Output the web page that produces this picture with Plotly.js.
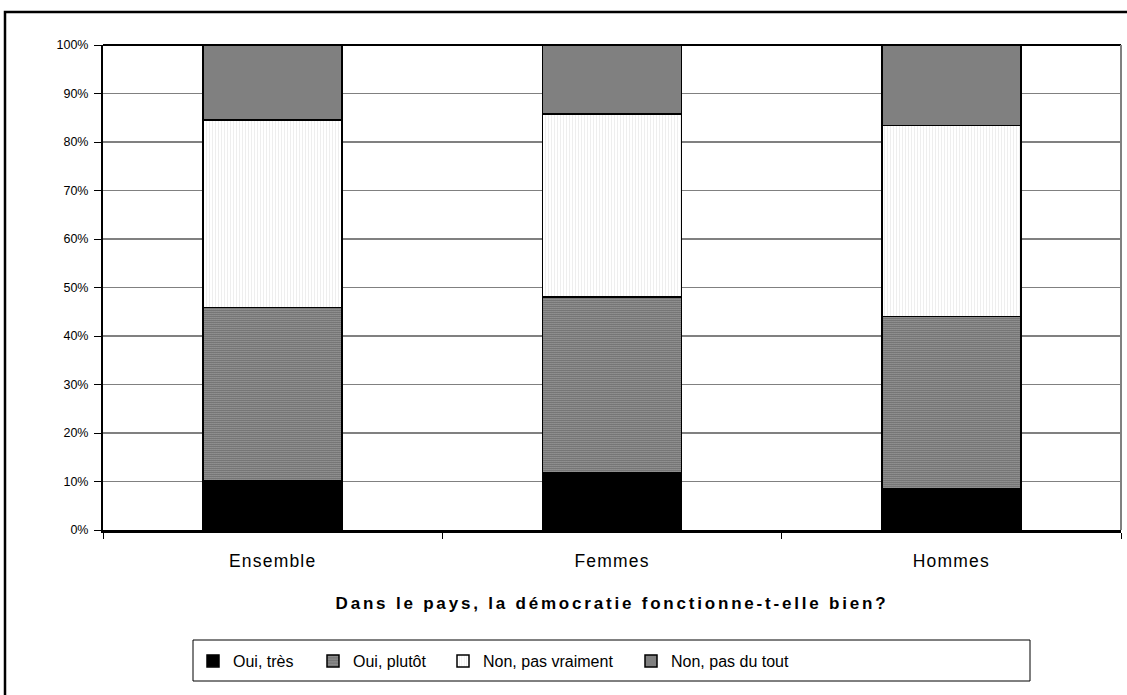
<!DOCTYPE html>
<html>
<head>
<meta charset="utf-8">
<script src="https://cdn.plot.ly/plotly-3.0.1.min.js"></script>
<style>
html,body{margin:0;padding:0;background:#fff;}
#chart{width:1127px;height:695px;}
#chart .xtick text{letter-spacing:1.2px;}
#chart .g-xtitle text{letter-spacing:2.8px;}
</style>
</head>
<body>
<div id="chart"></div>
<script>
const categories = ["Ensemble", "Femmes", "Hommes"];
const seriesNames = ["Oui, très", "Oui, plutôt", "Non, pas vraiment", "Non, pas du tout"];
const ouiTres = [10.2, 11.9, 8.5];
const ouiPlutot = [35.7, 36.1, 35.5];
const nonPasVraiment = [38.6, 37.8, 39.4];
const nonPasDuTout = [15.5, 14.2, 16.6];
const yTickVals = [0, 10, 20, 30, 40, 50, 60, 70, 80, 90, 100];
const yTickText = ["0%", "10%", "20%", "30%", "40%", "50%", "60%", "70%", "80%", "90%", "100%"];
const xTitle = "Dans le pays, la démocratie fonctionne-t-elle bien?";

const W = 1127, H = 695;
const mL = 103, mR = 6, mT = 45, mB = 165;
const pw = W - mL - mR, ph = H - mT - mB;
const px = x => (x - mL) / pw;
const py = y => (H - mB - y) / ph;

const lineStyle = {color: "#000", width: 1.5};
const legendIds = ["legend", "legend2", "legend3", "legend4"];
const traces = [
  {name: seriesNames[0], y: ouiTres, marker: {color: "#000", line: lineStyle}},
  {name: seriesNames[1], y: ouiPlutot, marker: {color: "#fff", line: lineStyle,
     pattern: {shape: ".", fgcolor: "#000", bgcolor: "#fff", size: 2, solidity: 0.55}}},
  {name: seriesNames[2], y: nonPasVraiment, marker: {color: "#fff", line: lineStyle,
     pattern: {shape: "|", fgcolor: "#ececec", bgcolor: "#fff", size: 3, solidity: 0.3}}},
  {name: seriesNames[3], y: nonPasDuTout, marker: {color: "#808080", line: lineStyle}}
].map((t, i) => Object.assign({type: "bar", x: categories, width: 0.41, hoverinfo: "none", legend: legendIds[i]}, t));

// legend text start positions (pixels)
const legendTextX = [233, 353, 483, 671];
const legendBase = {
  orientation: "h", xanchor: "left", yanchor: "middle", y: py(661),
  bgcolor: "rgba(0,0,0,0)", borderwidth: 0,
  font: {size: 16, family: "Liberation Sans, Arial, sans-serif", color: "#000"},
  itemwidth: 30
};

const layout = {
  width: W, height: H,
  margin: {l: mL, r: mR, t: mT, b: mB, pad: 0},
  paper_bgcolor: "#fff", plot_bgcolor: "#fff",
  barmode: "stack",
  font: {family: "Liberation Sans, Arial, sans-serif", color: "#000", size: 13},
  showlegend: true,
  xaxis: {
    type: "category",
    range: [-0.5, 2.5],
    showline: true, linecolor: "#000", linewidth: 2.5,
    ticks: "outside", tickson: "boundaries", ticklen: 6, tickcolor: "#000", tickwidth: 1,
    ticklabelstandoff: 13,
    tickfont: {size: 17.5},
    showgrid: false, zeroline: false,
    title: {text: "<b>" + xTitle + "</b>", font: {size: 17}, standoff: 28}
  },
  yaxis: {
    range: [0, 100],
    tickvals: yTickVals, ticktext: yTickText,
    showline: true, linecolor: "#000", linewidth: 2,
    ticks: "outside", ticklen: 7, tickcolor: "#000", tickwidth: 1,
    ticklabelstandoff: 3,
    tickfont: {size: 12.5},
    showgrid: true, gridcolor: "#808080", gridwidth: 1.2,
    zeroline: false
  },
  shapes: [
    {type: "line", xref: "paper", yref: "paper", x0: 0, x1: 1, y0: 1, y1: 1, line: {color: "#000", width: 2}},
    {type: "line", xref: "paper", yref: "paper", x0: 1, x1: 1, y0: 0, y1: 1, line: {color: "#808080", width: 2}},
    {type: "rect", xref: "paper", yref: "paper", x0: px(193), x1: px(1030), y0: py(640), y1: py(681),
     line: {color: "#000", width: 1}, fillcolor: "rgba(0,0,0,0)"},
    {type: "rect", xref: "paper", yref: "paper", x0: px(5), x1: px(1140), y0: py(12), y1: py(710),
     line: {color: "#000", width: 2.5}, fillcolor: "rgba(0,0,0,0)", layer: "above"}
  ]
};
legendIds.forEach((id, i) => {
  layout[id] = Object.assign({}, legendBase, {x: px(legendTextX[i] - 40)});
});

Plotly.newPlot("chart", traces, layout, {staticPlot: true, displayModeBar: false});
</script>
</body>
</html>
